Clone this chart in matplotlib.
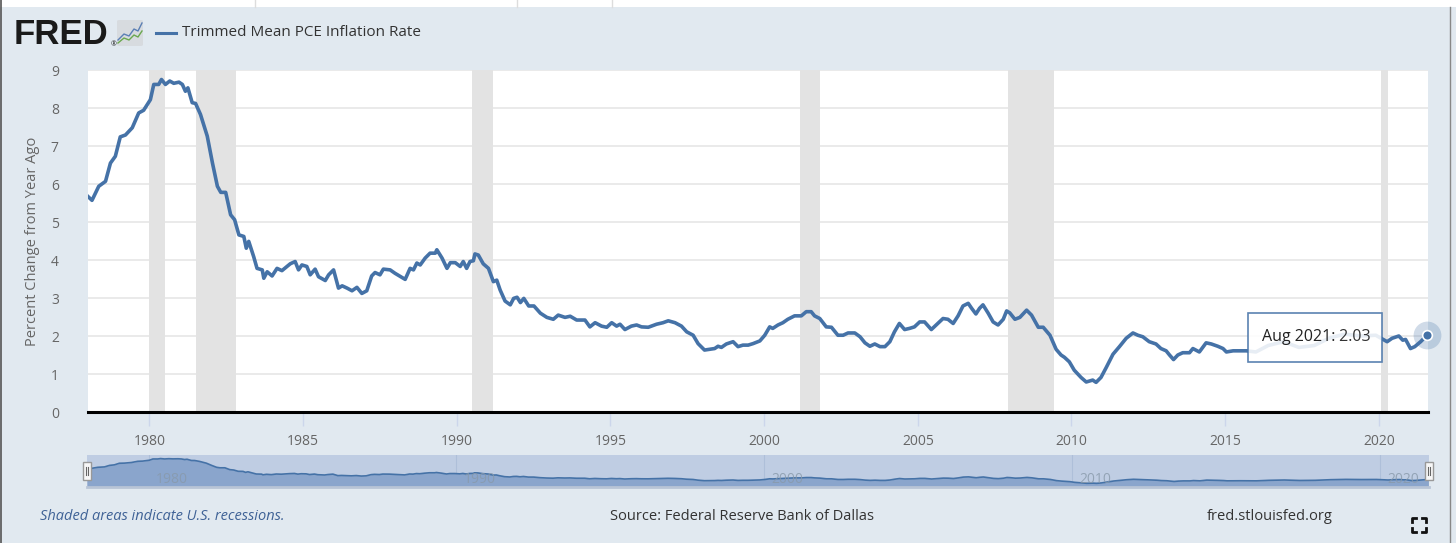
import matplotlib
matplotlib.use("Agg")
import matplotlib.pyplot as plt
from matplotlib.patches import Rectangle, FancyBboxPatch
from matplotlib.lines import Line2D

plt.rcParams["font.family"] = ["Open Sans", "DejaVu Sans"]

# ---------------------------------------------------------------------------
# Data (decimal year, percent change from year ago)
# ---------------------------------------------------------------------------
years = [
    1978.00, 1978.13, 1978.35, 1978.57, 1978.73, 1978.89, 1979.05, 1979.22,
    1979.44, 1979.65, 1979.81, 1980.03, 1980.14, 1980.30, 1980.39, 1980.52,
    1980.66, 1980.79, 1980.96, 1981.07, 1981.17, 1981.25, 1981.39, 1981.50,
    1981.66, 1981.88, 1982.05, 1982.21, 1982.32, 1982.48, 1982.64, 1982.77,
    1982.91, 1983.07, 1983.15, 1983.23, 1983.39, 1983.50, 1983.67, 1983.72,
    1983.83, 1983.99, 1984.15, 1984.31, 1984.58, 1984.74, 1984.85, 1984.96,
    1985.12, 1985.23, 1985.39, 1985.50, 1985.72, 1985.83, 1985.99, 1986.15,
    1986.27, 1986.43, 1986.59, 1986.75, 1986.91, 1987.07, 1987.23, 1987.34,
    1987.50, 1987.61, 1987.83, 1987.99, 1988.32, 1988.48, 1988.59, 1988.70,
    1988.81, 1988.97, 1989.13, 1989.30, 1989.35, 1989.52, 1989.68, 1989.79,
    1989.95, 1990.11, 1990.21, 1990.32, 1990.43, 1990.54, 1990.59, 1990.70,
    1990.86, 1991.03, 1991.19, 1991.30, 1991.41, 1991.57, 1991.74, 1991.85,
    1991.96, 1992.07, 1992.18, 1992.34, 1992.51, 1992.72, 1992.93, 1993.14,
    1993.30, 1993.52, 1993.69, 1993.90, 1994.17, 1994.33, 1994.50, 1994.71,
    1994.88, 1995.04, 1995.20, 1995.31, 1995.47, 1995.68, 1995.85, 1996.01,
    1996.23, 1996.50, 1996.71, 1996.88, 1997.10, 1997.31, 1997.48, 1997.69,
    1997.85, 1998.06, 1998.23, 1998.39, 1998.50, 1998.61, 1998.77, 1998.99,
    1999.15, 1999.31, 1999.48, 1999.64, 1999.86, 2000.02, 2000.18, 2000.28,
    2000.45, 2000.61, 2000.77, 2000.99, 2001.21, 2001.37, 2001.53, 2001.64,
    2001.81, 2002.02, 2002.19, 2002.40, 2002.57, 2002.73, 2002.95, 2003.12,
    2003.28, 2003.44, 2003.60, 2003.77, 2003.93, 2004.09, 2004.24, 2004.40,
    2004.57, 2004.73, 2004.89, 2005.06, 2005.22, 2005.44, 2005.65, 2005.82,
    2005.98, 2006.15, 2006.31, 2006.47, 2006.64, 2006.75, 2006.89, 2007.01,
    2007.12, 2007.29, 2007.45, 2007.61, 2007.78, 2007.89, 2007.99, 2008.16,
    2008.32, 2008.54, 2008.70, 2008.92, 2009.08, 2009.30, 2009.50, 2009.66,
    2009.77, 2009.93, 2010.09, 2010.31, 2010.48, 2010.69, 2010.80, 2010.96,
    2011.13, 2011.35, 2011.56, 2011.78, 2012.00, 2012.16, 2012.32, 2012.53,
    2012.75, 2012.91, 2013.08, 2013.19, 2013.32, 2013.46, 2013.62, 2013.84,
    2013.95, 2014.16, 2014.38, 2014.55, 2014.76, 2014.93, 2015.04, 2015.26,
    2015.47, 2015.69, 2016.00, 2016.40, 2016.90, 2017.40, 2017.90, 2018.40,
    2018.90, 2019.40, 2019.90, 2020.27, 2020.43, 2020.65, 2020.78, 2020.87,
    2021.03, 2021.17, 2021.36, 2021.58,
]
values = [
    5.67, 5.57, 5.94, 6.07, 6.55, 6.73, 7.24, 7.29,
    7.48, 7.87, 7.94, 8.22, 8.62, 8.62, 8.75, 8.62,
    8.71, 8.65, 8.68, 8.62, 8.44, 8.53, 8.14, 8.12,
    7.83, 7.26, 6.55, 5.94, 5.78, 5.78, 5.19, 5.06,
    4.66, 4.62, 4.31, 4.49, 4.09, 3.78, 3.74, 3.52,
    3.69, 3.58, 3.78, 3.72, 3.90, 3.96, 3.74, 3.87,
    3.83, 3.61, 3.76, 3.56, 3.46, 3.61, 3.74, 3.26,
    3.32, 3.26, 3.19, 3.28, 3.12, 3.19, 3.58, 3.67,
    3.61, 3.76, 3.74, 3.65, 3.49, 3.78, 3.74, 3.92,
    3.87, 4.05, 4.18, 4.18, 4.27, 4.05, 3.78, 3.93,
    3.93, 3.83, 3.96, 3.78, 3.96, 3.98, 4.16, 4.13,
    3.90, 3.78, 3.43, 3.47, 3.21, 2.92, 2.82, 2.99,
    3.02, 2.88, 2.99, 2.79, 2.79, 2.60, 2.49, 2.44,
    2.55, 2.49, 2.52, 2.42, 2.42, 2.24, 2.35, 2.26,
    2.23, 2.35, 2.26, 2.31, 2.17, 2.26, 2.29, 2.24,
    2.23, 2.31, 2.35, 2.40, 2.35, 2.26, 2.11, 2.02,
    1.80, 1.63, 1.65, 1.67, 1.73, 1.70, 1.79, 1.85,
    1.72, 1.76, 1.76, 1.80, 1.87, 2.02, 2.24, 2.20,
    2.29, 2.35, 2.44, 2.53, 2.53, 2.64, 2.64, 2.53,
    2.46, 2.24, 2.23, 2.02, 2.02, 2.08, 2.08, 1.98,
    1.82, 1.73, 1.79, 1.72, 1.72, 1.85, 2.11, 2.33,
    2.17, 2.20, 2.24, 2.37, 2.37, 2.17, 2.33, 2.46,
    2.44, 2.33, 2.53, 2.79, 2.86, 2.73, 2.58, 2.73,
    2.82, 2.60, 2.37, 2.29, 2.44, 2.66, 2.61, 2.44,
    2.49, 2.68, 2.55, 2.23, 2.23, 2.02, 1.65, 1.50,
    1.44, 1.32, 1.10, 0.91, 0.79, 0.84, 0.78, 0.91,
    1.17, 1.52, 1.72, 1.94, 2.08, 2.02, 1.98, 1.85,
    1.79, 1.67, 1.61, 1.50, 1.38, 1.50, 1.56, 1.56,
    1.67, 1.58, 1.82, 1.79, 1.73, 1.67, 1.58, 1.61,
    1.61, 1.61, 1.58, 1.75, 1.85, 1.70, 1.75, 1.95,
    2.05, 2.00, 2.02, 1.85, 1.94, 2.00, 1.89, 1.91,
    1.67, 1.72, 1.85, 2.03,
]

# NBER recessions (start, end) in decimal years
rec_start = [1980.00, 1981.50, 1990.50, 2001.17, 2007.92, 2020.08]
rec_end = [1980.50, 1982.83, 1991.17, 2001.83, 2009.42, 2020.30]

x_ticks = [1980, 1985, 1990, 1995, 2000, 2005, 2010, 2015, 2020]
nav_ticks = [1980, 1990, 2000, 2010, 2020]
y_ticks = list(range(0, 10))

last_label = "Aug 2021:"
last_value = "2.03"

BG = "#e1e9f0"
LINE = "#4572a7"
SHADE = "#e3e3e3"
GRID = "#e6e6e6"

W, H = 1456, 543
fig = plt.figure(figsize=(W / 100, H / 100), dpi=100, facecolor=BG)


def fx(px):
    return px / W


def fy(py):
    return 1 - py / H


# white strip at the very top of the screenshot
fig.patches.append(Rectangle((0, fy(7)), 1, fy(0) - fy(7), transform=fig.transFigure,
                             facecolor="white", edgecolor="none", zorder=0))
for px in [255, 517, 612]:
    fig.add_artist(Line2D([fx(px), fx(px)], [fy(7), 1], transform=fig.transFigure,
                          color="#dddddd", lw=1))
fig.add_artist(Line2D([fx(1), fx(1)], [0, 1], transform=fig.transFigure, color="#555555", lw=1.2))
fig.add_artist(Line2D([fx(1450), fx(1450)], [0, fy(7)], transform=fig.transFigure,
                      color="#888888", lw=1))

# ---------------------------------------------------------------------------
# Main chart
# ---------------------------------------------------------------------------
ax = fig.add_axes([fx(88), fy(412), fx(1428) - fx(88), fy(70) - fy(412)])
ax.set_facecolor("white")
ax.set_xlim(1978.0, 2021.6)
ax.set_ylim(0, 9)

for s, e in zip(rec_start, rec_end):
    ax.axvspan(s, e, color=SHADE, lw=0, zorder=1)

ax.plot(years, values, color=LINE, lw=2.6, zorder=3, solid_joinstyle="round")

ax.set_yticks(y_ticks)
ax.set_xticks(x_ticks)
ax.yaxis.grid(True, color=GRID, lw=1.2, zorder=0)
ax.set_axisbelow(True)
for sp in ["top", "right", "left"]:
    ax.spines[sp].set_visible(False)
ax.spines["bottom"].set_color("black")
ax.spines["bottom"].set_linewidth(2.2)
ax.spines["bottom"].set_zorder(5)
ax.tick_params(axis="y", length=0, pad=21, labelsize=10, labelcolor="#666666")
ax.tick_params(axis="x", length=10, width=1, color="#ccd6eb", pad=6,
               labelsize=10, labelcolor="#666666")
ax.set_ylabel("Percent Change from Year Ago", fontsize=10.5, color="#666666", labelpad=8)

# highlighted last point
ax.plot([years[-1]], [values[-1]], "o", ms=20, color=LINE, alpha=0.25, mec="none",
        zorder=6, clip_on=False)
ax.plot([years[-1]], [values[-1]], "o", ms=7, color=LINE, mec="white", mew=1.2,
        zorder=7, clip_on=False)

# tooltip box
tip = FancyBboxPatch((fx(1248), fy(362)), fx(1382) - fx(1248), fy(313) - fy(362),
                     boxstyle="square,pad=0", transform=fig.transFigure,
                     facecolor="white", edgecolor=LINE, lw=1.2, alpha=0.88, zorder=8)
fig.patches.append(tip)
fig.text(fx(1262), fy(337), last_label, fontsize=11.5, color="#222222",
         va="center", ha="left", zorder=9)
fig.text(fx(1335), fy(337), " " + last_value, fontsize=11.5, color="#333333",
         va="center", ha="left", zorder=9)

# ---------------------------------------------------------------------------
# Navigator
# ---------------------------------------------------------------------------
nav = fig.add_axes([fx(87), fy(487), fx(1429) - fx(87), fy(455) - fy(487)])
nav.set_facecolor("#bfcde3")
nav.set_xlim(1978.0, 2021.6)
nav.set_ylim(-0.4, 9.9)
nav.fill_between(years, values, -0.4, color="#8aa5cc", lw=0)
nav.plot(years, values, color=LINE, lw=1.2)
for t in nav_ticks:
    nav.axvline(t, color="#aebfd9", lw=0.8, zorder=0)
    nav.text(t + 0.25, 2.1, str(t), fontsize=10, color="#8899aa", alpha=0.8, ha="left",
             va="center")
nav.set_xticks([])
nav.set_yticks([])
for sp in nav.spines.values():
    sp.set_visible(False)
nav.spines["bottom"].set_visible(True)
nav.spines["bottom"].set_color("#b8c4d6")
nav.spines["bottom"].set_linewidth(2)

for hx in [87, 1429]:
    fig.patches.append(Rectangle((fx(hx - 4), fy(480)), fx(8), fy(462) - fy(480),
                                 transform=fig.transFigure, facecolor="#f7f7f7",
                                 edgecolor="#999999", lw=1, zorder=10))
    for dx in [-1.2, 1.2]:
        fig.add_artist(Line2D([fx(hx + dx), fx(hx + dx)], [fy(475), fy(467)],
                              transform=fig.transFigure, color="#666666", lw=0.8, zorder=11))

# ---------------------------------------------------------------------------
# Header: FRED logo and legend
# ---------------------------------------------------------------------------
fig.text(fx(14), fy(34), "FRED", fontsize=25, fontweight="bold", color="#1a1a1a",
         family="Liberation Sans", va="center", ha="left")
fig.text(fx(111), fy(45), "®", fontsize=5, color="#1a1a1a", va="center", ha="left")
fig.patches.append(FancyBboxPatch((fx(117), fy(46)), fx(26), fy(20) - fy(46),
                                  boxstyle="round,pad=0,rounding_size=0.002",
                                  transform=fig.transFigure, facecolor="#d7dbdf",
                                  edgecolor="none"))
fig.add_artist(Line2D([fx(118), fx(124), fx(129), fx(134), fx(138), fx(142)],
                      [fy(40), fy(34), fy(36), fy(29), fy(31), fy(23)],
                      transform=fig.transFigure, color="#5b7fb5", lw=1))
fig.add_artist(Line2D([fx(118), fx(124), fx(129), fx(134), fx(138), fx(142)],
                      [fy(43), fy(38), fy(40), fy(35), fy(37), fy(31)],
                      transform=fig.transFigure, color="#6aa84f", lw=1))

fig.add_artist(Line2D([fx(156), fx(176)], [fy(33), fy(33)], transform=fig.transFigure,
                      color=LINE, lw=2.2))
fig.text(fx(182), fy(33), "Trimmed Mean PCE Inflation Rate", fontsize=11, color="#333333",
         va="center", ha="left")

# ---------------------------------------------------------------------------
# Footer
# ---------------------------------------------------------------------------
fig.text(fx(40), fy(516), "Shaded areas indicate U.S. recessions.", fontsize=10.5,
         style="italic", color="#3f6296", va="center", ha="left")
fig.text(fx(742), fy(516), "Source: Federal Reserve Bank of Dallas", fontsize=10.5,
         color="#333333", va="center", ha="center")
fig.text(fx(1270), fy(516), "fred.stlouisfed.org", fontsize=10.5, color="#333333",
         va="center", ha="center")

# expand icon
for cx, cy, sx, sy in [(1412, 518, 1, 1), (1426, 518, -1, 1), (1412, 532, 1, -1),
                       (1426, 532, -1, -1)]:
    fig.add_artist(Line2D([fx(cx + 4 * sx), fx(cx), fx(cx)],
                          [fy(cy), fy(cy), fy(cy + 4 * sy)],
                          transform=fig.transFigure, color="#111111", lw=2))

fig.savefig("out.png", dpi=100, facecolor=BG)
